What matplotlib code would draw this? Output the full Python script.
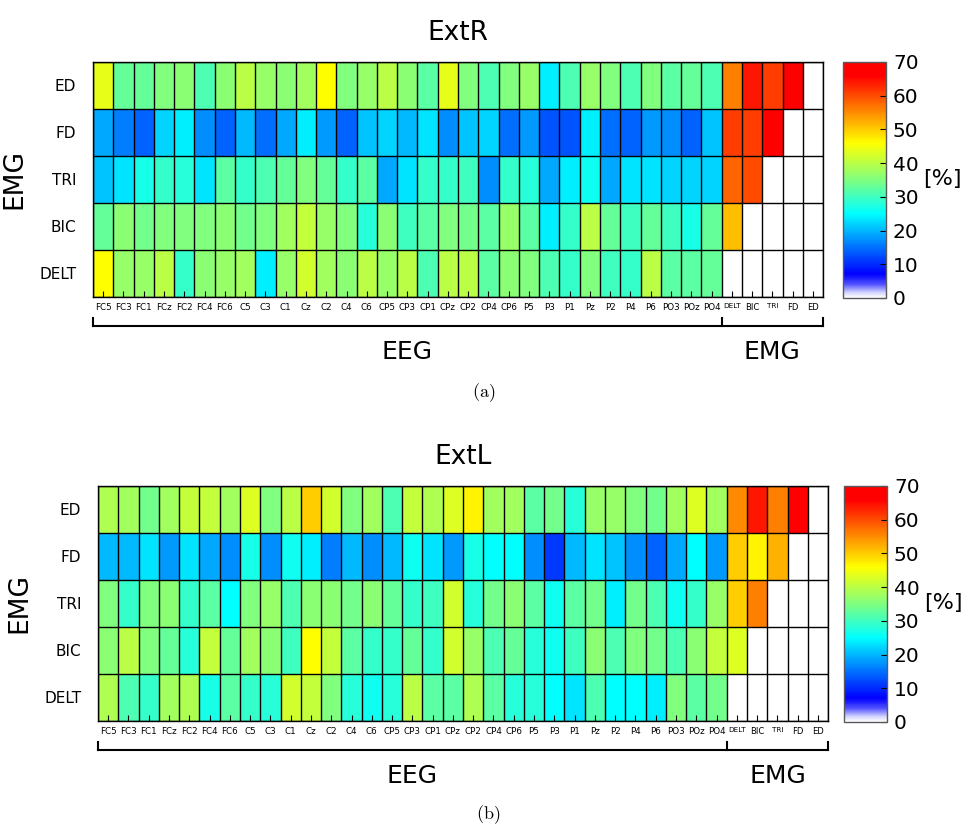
import numpy as np
import matplotlib
matplotlib.use("Agg")
import matplotlib.pyplot as plt
from matplotlib.colors import LinearSegmentedColormap
from matplotlib.transforms import blended_transform_factory

nan = np.nan

# channels
eeg_labels = ["FC5", "FC3", "FC1", "FCz", "FC2", "FC4", "FC6", "C5", "C3", "C1", "Cz", "C2",
              "C4", "C6", "CP5", "CP3", "CP1", "CPz", "CP2", "CP4", "CP6", "P5", "P3", "P1",
              "Pz", "P2", "P4", "P6", "PO3", "POz", "PO4"]
emg_labels = ["DELT", "BIC", "TRI", "FD", "ED"]
row_labels = ["ED", "FD", "TRI", "BIC", "DELT"]

# ExtR values [%] (31 EEG + 5 EMG per row)
extR_ED = [44, 33, 33, 35, 36, 31, 36, 40, 37, 36, 38, 46, 35, 37, 40, 36, 32, 44, 35, 31, 35,
           37, 24, 31, 37, 35, 31, 35, 32, 33, 31, 56, 64, 61, 68, nan]
extR_FD = [19, 16, 14, 22, 24, 17, 14, 20, 15, 19, 24, 18, 14, 21, 22, 20, 23, 17, 21, 22, 15,
           18, 13, 13, 24, 15, 14, 18, 17, 14, 21, 61, 61, 68, nan, nan]
extR_TRI = [21, 23, 27, 29, 28, 23, 32, 29, 31, 33, 35, 33, 29, 32, 19, 23, 29, 29, 30, 17, 29,
            28, 19, 24, 26, 19, 23, 23, 22, 22, 22, 58, 60, nan, nan, nan]
extR_BIC = [33, 36, 34, 35, 35, 35, 36, 34, 35, 38, 41, 37, 35, 28, 36, 30, 32, 35, 34, 32, 37,
            32, 24, 29, 40, 33, 30, 33, 30, 27, 33, 51, nan, nan, nan, nan]
extR_DELT = [46, 37, 37, 40, 29, 36, 37, 38, 24, 37, 42, 38, 36, 40, 37, 40, 31, 40, 40, 32, 36,
             35, 31, 29, 35, 30, 29, 40, 32, 32, 33, nan, nan, nan, nan, nan]

# ExtL values [%]
extL_ED = [39, 38, 34, 38, 41, 41, 38, 43, 35, 40, 50, 42, 35, 38, 31, 41, 39, 43, 47, 38, 38,
           32, 34, 28, 37, 37, 35, 34, 38, 43, 38, 55, 64, 56, 68, nan]
extL_FD = [20, 20, 23, 18, 23, 19, 17, 27, 17, 26, 24, 16, 20, 17, 20, 26, 23, 18, 27, 25, 25,
           17, 11, 20, 23, 21, 17, 14, 19, 25, 18, 50, 47, 52, nan, nan]
extL_TRI = [35, 29, 35, 36, 29, 32, 25, 35, 37, 31, 36, 36, 34, 36, 33, 29, 30, 42, 28, 34, 36,
            32, 26, 32, 34, 24, 34, 31, 26, 29, 37, 50, 56, nan, nan, nan]
extL_BIC = [36, 40, 35, 33, 28, 41, 33, 38, 36, 30, 46, 41, 32, 29, 29, 33, 29, 42, 37, 31, 33,
            28, 26, 30, 36, 31, 35, 34, 31, 36, 41, 43, nan, nan, nan, nan]
extL_DELT = [39, 31, 29, 38, 39, 27, 32, 29, 28, 42, 41, 35, 28, 26, 28, 40, 32, 32, 39, 32, 28,
             28, 25, 23, 31, 25, 25, 24, 35, 32, 34, nan, nan, nan, nan, nan]

cmap = LinearSegmentedColormap.from_list("jetw", [
    (0 / 70, (1, 1, 1)),
    (2 / 70, (0.75, 0.75, 1)),
    (4 / 70, (0.3, 0.3, 1)),
    (7 / 70, (0, 0, 1)),
    (16 / 70, (0, 0.5, 1)),
    (25 / 70, (0, 1, 1)),
    (35 / 70, (0.5, 1, 0.5)),
    (46 / 70, (1, 1, 0)),
    (56 / 70, (1, 0.5, 0)),
    (66 / 70, (1, 0, 0)),
    (70 / 70, (1, 0, 0)),
])


def draw_panel(fig, ax_rect, cb_rect, rows, title, tag, tag_y):
    data = np.ma.masked_invalid(np.array(rows, dtype=float))
    n_rows, n_cols = data.shape
    ax = fig.add_axes(ax_rect)
    mesh = ax.pcolormesh(np.arange(n_cols + 1), np.arange(n_rows + 1), data,
                         cmap=cmap, vmin=0, vmax=70)
    ax.vlines(np.arange(n_cols + 1), 0, n_rows, color="k", lw=1.0)
    ax.hlines(np.arange(n_rows + 1), 0, n_cols, color="k", lw=1.0)
    ax.set_xlim(0, n_cols)
    ax.set_ylim(n_rows, 0)
    ax.set_xticks(np.arange(n_cols) + 0.5)
    ax.set_xticklabels(eeg_labels + emg_labels, fontsize=6.3)
    for lab in ax.get_xticklabels()[len(eeg_labels):]:
        lab.set_fontsize(5.2 if lab.get_text() in ("DELT", "TRI") else 6.0)
    ax.set_yticks(np.arange(n_rows) + 0.5)
    ax.set_yticklabels(row_labels, fontsize=11)
    ax.tick_params(axis="x", direction="in", length=4, width=0.8, pad=4)
    ax.tick_params(axis="y", length=0, pad=12)
    for sp in ax.spines.values():
        sp.set_linewidth(1.0)
    ax.set_title(title, fontsize=19, pad=16)
    ax.set_ylabel("EMG", fontsize=19)
    ax.yaxis.set_label_coords((27 - 93) / 730, 0.5)

    # brackets under the labels
    tr = blended_transform_factory(ax.transData, ax.transAxes)
    n_eeg = len(eeg_labels)
    yb, yt = -0.125, -0.09
    ax.plot([0, n_cols], [yb, yb], color="k", lw=1.5, transform=tr, clip_on=False)
    for xv in [0, n_eeg, n_cols]:
        ax.plot([xv, xv], [yb, yt], color="k", lw=1.5, transform=tr, clip_on=False)
    ax.text(n_eeg / 2, -0.235, "EEG", transform=tr, ha="center", va="center", fontsize=18)
    ax.text((n_eeg + n_cols) / 2, -0.235, "EMG", transform=tr, ha="center", va="center",
            fontsize=18)

    cax = fig.add_axes(cb_rect)
    cb = fig.colorbar(mesh, cax=cax, ticks=np.arange(0, 71, 10))
    cb.outline.set_edgecolor("0.35")
    cb.outline.set_linewidth(1.0)
    cax.tick_params(direction="in", length=4, width=0.8, labelsize=14.5, pad=5)
    cax.text(1.86, 0.505, "[%]", transform=cax.transAxes, ha="left", va="center",
             fontsize=16)

    fig.text(ax_rect[0] + ax_rect[2] * 0.535, tag_y, r"$\mathrm{(" + tag + ")}$",
             ha="center", va="center", fontsize=13)


plt.rcParams["mathtext.fontset"] = "cm"
fig = plt.figure(figsize=(9.64, 8.27), dpi=100)

draw_panel(fig, [0.0965, 0.6409, 0.7573, 0.2842], [0.8745, 0.6397, 0.0446, 0.2854],
           [extR_ED, extR_FD, extR_TRI, extR_BIC, extR_DELT], "ExtR", "a", 1 - 393 / 827)
draw_panel(fig, [0.1017, 0.1282, 0.7573, 0.2842], [0.8755, 0.1270, 0.0446, 0.2854],
           [extL_ED, extL_FD, extL_TRI, extL_BIC, extL_DELT], "ExtL", "b", 1 - 815 / 827)

fig.savefig("out.png", dpi=100)
